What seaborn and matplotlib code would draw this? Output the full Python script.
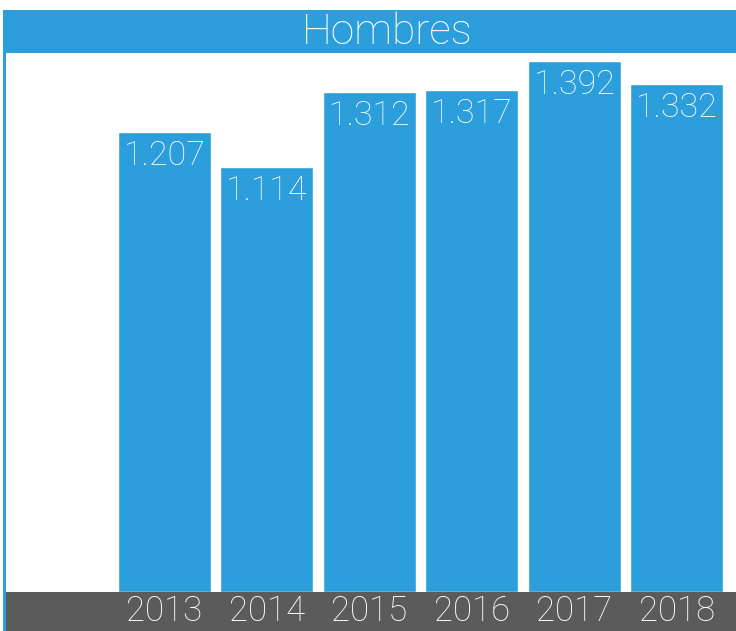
import pandas as pd
import seaborn as sns
from matplotlib import pyplot as plt
from matplotlib.patches import Rectangle

# Data
years = ['2013', '2014', '2015', '2016', '2017', '2018']
hombres = [1207, 1114, 1312, 1317, 1392, 1332]
labels = ['1.207', '1.114', '1.312', '1.317', '1.392', '1.332']

df = pd.DataFrame({'year': years, 'value': hombres})

blue = '#2b9edb'
grey = '#5b5b5b'

sns.set_style('white')
plt.rcParams['font.family'] = ['Roboto', 'DejaVu Sans']

W, H = 736, 631
fig = plt.figure(figsize=(W / 100, H / 100), dpi=100)
ax = fig.add_axes([6 / W, 39 / H, 730 / W, 539 / H])

sns.barplot(data=df, x='year', y='value', color=blue, saturation=1,
            width=0.907, ax=ax)

ax.set_xlim(-1.546, 5.576)
ax.set_ylim(0, 1413)

for p, lab in zip(ax.patches, labels):
    ax.annotate(lab, (p.get_x() + p.get_width() / 2, p.get_height()),
                xytext=(0, -6), textcoords='offset points',
                ha='center', va='top', color='white', fontsize=24.5,
                fontweight='light')

ax.set_xlabel('')
ax.set_ylabel('')
ax.set_yticks([])
ax.tick_params(axis='x', length=0, pad=2, labelsize=25, labelcolor='white')
for t in ax.get_xticklabels():
    t.set_fontweight('light')
for s in ax.spines.values():
    s.set_visible(False)

# grey band at the bottom
fig.patches.append(Rectangle((6 / W, 0), 730 / W, 40 / H, transform=fig.transFigure,
                             facecolor=grey, edgecolor='none', zorder=-1))
# title bar
fig.patches.append(Rectangle((3 / W, (H - 53) / H), 733 / W, 43 / H,
                             transform=fig.transFigure, facecolor=blue,
                             edgecolor='none', zorder=-1))
# left border
fig.patches.append(Rectangle((3 / W, 0), 3 / W, (H - 10) / H,
                             transform=fig.transFigure, facecolor=blue,
                             edgecolor='none', zorder=-1))

fig.text(387 / W, (H - 33) / H, 'Hombres', ha='center', va='center',
         color='white', fontsize=30.5, fontweight='light')

fig.savefig('out.png', dpi=100)
